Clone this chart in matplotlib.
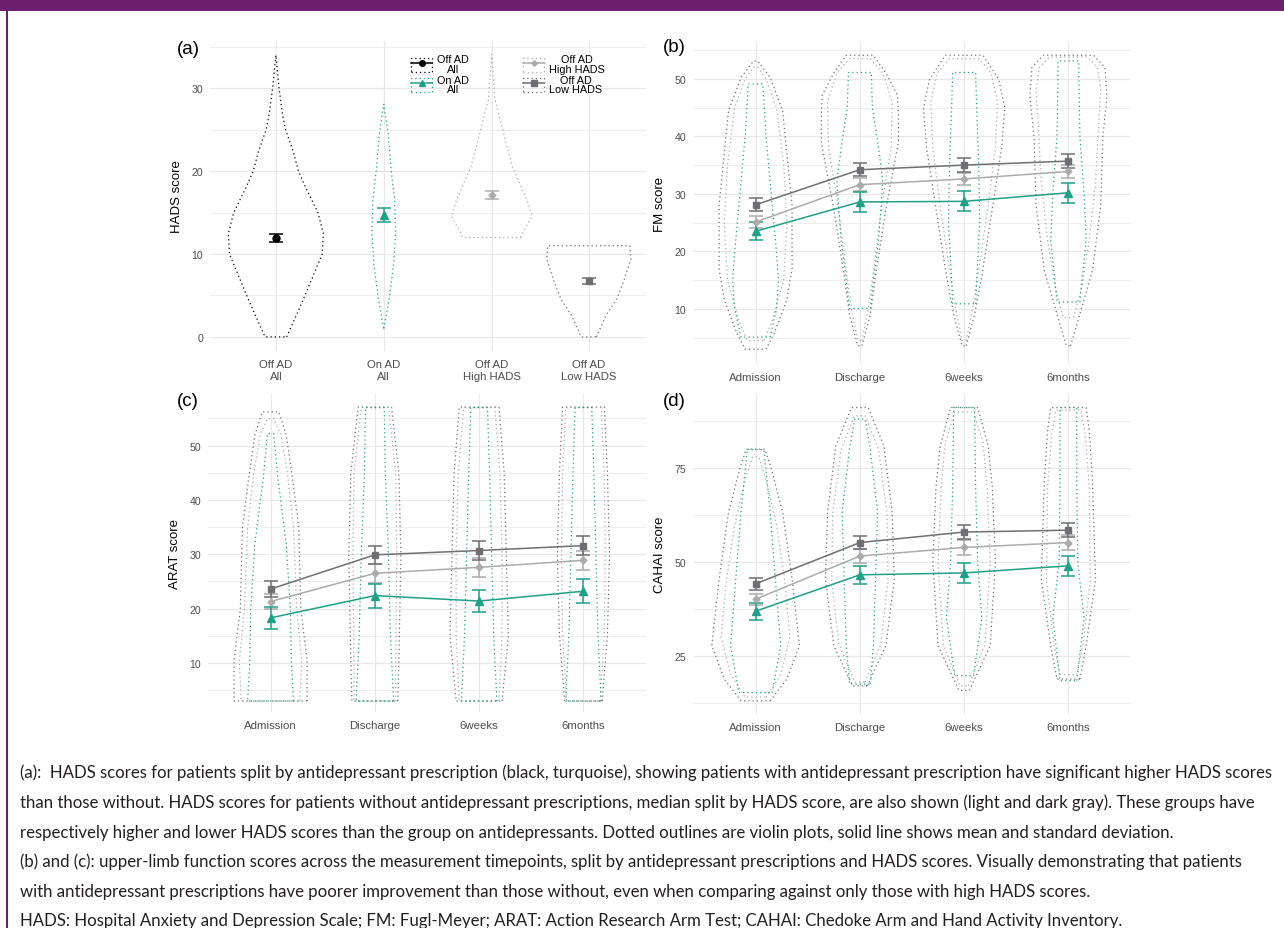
import matplotlib
matplotlib.use("Agg")
import matplotlib.pyplot as plt
from matplotlib.patches import Rectangle
from matplotlib.lines import Line2D

W, H = 1284, 929

# ---- data ----
groups_a = ["Off AD\nAll", "On AD\nAll", "Off AD\nHigh HADS", "Off AD\nLow HADS"]
pos_a = [1, 2, 3, 3.9]
hads_mean = [11.95, 14.7, 17.1, 6.75]
hads_sd = [0.45, 0.8, 0.45, 0.35]

# violin outlines: (score, half width) from bottom to top
hads_violins = [
    [(0, 0.10), (2.6, 0.19), (5, 0.27), (7.5, 0.35), (10, 0.43), (12.5, 0.44), (15, 0.39),
     (18.2, 0.27), (20, 0.21), (22.4, 0.16), (25, 0.09), (27, 0.06), (30, 0.03), (34, 0.0)],
    [(1, 0.0), (4.6, 0.05), (8.6, 0.09), (12.6, 0.11), (16.7, 0.10), (20, 0.07), (24.6, 0.04), (28.1, 0.0)],
    [(12, 0.27), (12.6, 0.29), (14.6, 0.375), (16.7, 0.32), (20.6, 0.19), (24.6, 0.11), (28.7, 0.03), (34.1, 0.0)],
    [(0, 0.07), (2.6, 0.16), (4.6, 0.26), (6.6, 0.32), (9.4, 0.39), (11, 0.38)],
]

timepoints = ["Admission", "Discharge", "6weeks", "6months"]

fm_on_mean = [23.5, 28.6, 28.7, 30.2]
fm_on_sd = [1.6, 1.7, 1.75, 1.7]
fm_hi_mean = [25.1, 31.6, 32.6, 33.9]
fm_hi_sd = [1.1, 1.1, 1.1, 1.2]
fm_lo_mean = [28.1, 34.2, 35.0, 35.7]
fm_lo_sd = [1.1, 1.1, 1.15, 1.2]

arat_on_mean = [18.3, 22.4, 21.4, 23.2]
arat_on_sd = [2.0, 2.2, 2.1, 2.2]
arat_hi_mean = [21.3, 26.5, 27.6, 28.9]
arat_hi_sd = [1.4, 1.8, 1.8, 1.7]
arat_lo_mean = [23.6, 29.9, 30.7, 31.6]
arat_lo_sd = [1.5, 1.6, 1.7, 1.7]

cahai_on_mean = [36.9, 46.6, 47.1, 49.0]
cahai_on_sd = [2.3, 2.4, 2.6, 2.6]
cahai_hi_mean = [40.1, 51.6, 53.9, 55.2]
cahai_hi_sd = [1.5, 1.8, 1.9, 2.1]
cahai_lo_mean = [44.2, 55.2, 58.0, 58.5]
cahai_lo_sd = [1.6, 1.8, 1.8, 1.9]

fm_lo_violins = [
    [(3.0, 0.10), (5.8, 0.18), (11.6, 0.30), (17, 0.35), (28, 0.35), (37, 0.30), (44.4, 0.26), (50.2, 0.14), (53.1, 0.02)],
    [(3.6, 0.02), (9, 0.10), (15.8, 0.15), (27.4, 0.25), (39, 0.37), (44, 0.37), (47.2, 0.36), (51, 0.25), (54.1, 0.13)],
    [(3.6, 0.02), (9, 0.10), (15.8, 0.17), (27.4, 0.27), (38, 0.36), (45, 0.39), (50, 0.33), (54.1, 0.18)],
    [(3.6, 0.02), (7.9, 0.09), (16.6, 0.23), (28, 0.31), (40, 0.33), (47, 0.37), (52, 0.35), (54.1, 0.24)],
]
fm_hi_violins = [
    [(4.5, 0.08), (8, 0.16), (15, 0.27), (25, 0.30), (35, 0.27), (45, 0.20), (50, 0.10), (52, 0.02)],
    [(4.5, 0.02), (10, 0.08), (18, 0.14), (28, 0.21), (38, 0.30), (46, 0.31), (51, 0.22), (53.5, 0.10)],
    [(4.5, 0.02), (10, 0.08), (18, 0.15), (28, 0.23), (38, 0.30), (46, 0.32), (51, 0.26), (53.5, 0.14)],
    [(8.5, 0.05), (14, 0.13), (22, 0.20), (32, 0.26), (42, 0.29), (48, 0.31), (52, 0.28), (53.8, 0.18)],
]
fm_on_violins = [
    [(5.1, 0.14), (10, 0.20), (15, 0.22), (20, 0.20), (30, 0.15), (40, 0.10), (49.1, 0.07)],
    [(10.1, 0.10), (15, 0.13), (22, 0.18), (32, 0.22), (38, 0.18), (45, 0.12), (51.1, 0.11)],
    [(10.9, 0.11), (15, 0.12), (25, 0.15), (35, 0.14), (45, 0.12), (51.1, 0.11)],
    [(11.2, 0.11), (15, 0.13), (22, 0.17), (30, 0.15), (40, 0.11), (50, 0.10), (53.1, 0.10)],
]

arat_lo_violins = [
    [(3, 0.35), (10.6, 0.35), (19.9, 0.29), (35, 0.27), (44, 0.21), (52, 0.15), (56.2, 0.08)],
    [(3, 0.22), (10, 0.23), (30, 0.25), (45, 0.23), (57.1, 0.16)],
    [(3, 0.22), (15, 0.28), (30, 0.26), (45, 0.24), (57.1, 0.19)],
    [(3, 0.18), (15, 0.23), (30, 0.25), (45, 0.23), (57.1, 0.20)],
]
arat_hi_violins = [
    [(3, 0.28), (10, 0.30), (20, 0.25), (35, 0.22), (45, 0.16), (52, 0.10), (55, 0.03)],
    [(3, 0.20), (10, 0.20), (30, 0.21), (45, 0.20), (57, 0.13)],
    [(3, 0.19), (15, 0.22), (30, 0.22), (45, 0.20), (57, 0.15)],
    [(3, 0.16), (15, 0.20), (30, 0.21), (45, 0.20), (57, 0.17)],
]
arat_on_violins = [
    [(3, 0.22), (10, 0.20), (19.9, 0.19), (32, 0.15), (44, 0.07), (52.2, 0.03)],
    [(3, 0.18), (15, 0.15), (30, 0.13), (45, 0.10), (57, 0.09)],
    [(3, 0.17), (15, 0.14), (30, 0.12), (45, 0.10), (57, 0.08)],
    [(3, 0.17), (15, 0.14), (30, 0.12), (45, 0.10), (57, 0.08)],
]

cahai_lo_violins = [
    [(13, 0.14), (18.8, 0.30), (27.7, 0.42), (45.4, 0.35), (63.2, 0.26), (75, 0.15), (80.1, 0.09)],
    [(17, 0.07), (27.7, 0.25), (45.4, 0.33), (63.2, 0.31), (81, 0.23), (91.2, 0.08)],
    [(15.8, 0.05), (27.7, 0.25), (50, 0.30), (70, 0.27), (81, 0.23), (91.2, 0.13)],
    [(18.8, 0.11), (27.7, 0.17), (45.4, 0.26), (72, 0.23), (85, 0.20), (91.2, 0.17)],
]
cahai_hi_violins = [
    [(14, 0.10), (20, 0.24), (30, 0.33), (45, 0.28), (60, 0.20), (72, 0.10), (78, 0.03)],
    [(18, 0.05), (28, 0.20), (45, 0.27), (63, 0.26), (80, 0.18), (89, 0.05)],
    [(17, 0.04), (28, 0.20), (50, 0.25), (70, 0.22), (82, 0.18), (90, 0.09)],
    [(20, 0.08), (28, 0.14), (45, 0.21), (70, 0.20), (84, 0.16), (90.5, 0.12)],
]
cahai_on_violins = [
    [(15.2, 0.16), (27.7, 0.24), (45.4, 0.19), (63.2, 0.14), (80, 0.08)],
    [(17.5, 0.10), (27.7, 0.13), (45, 0.15), (63.2, 0.17), (80, 0.10), (88.1, 0.05)],
    [(19.7, 0.09), (35, 0.17), (50, 0.13), (70, 0.11), (91.2, 0.10)],
    [(18.4, 0.08), (35, 0.15), (50, 0.09), (70, 0.08), (91.2, 0.08)],
]

caption = [
    "(a):  HADS scores for patients split by antidepressant prescription (black, turquoise), showing patients with antidepressant prescription have significant higher HADS scores",
    "than those without. HADS scores for patients without antidepressant prescriptions, median split by HADS score, are also shown (light and dark gray). These groups have",
    "respectively higher and lower HADS scores than the group on antidepressants. Dotted outlines are violin plots, solid line shows mean and standard deviation.",
    "(b) and (c): upper-limb function scores across the measurement timepoints, split by antidepressant prescriptions and HADS scores. Visually demonstrating that patients",
    "with antidepressant prescriptions have poorer improvement than those without, even when comparing against only those with high HADS scores.",
    "HADS: Hospital Anxiety and Depression Scale; FM: Fugl-Meyer; ARAT: Action Research Arm Test; CAHAI: Chedoke Arm and Hand Activity Inventory.",
]

# ---- style ----
BLACK = "#000000"
TEAL = "#1FA187"
LGRAY = "#ABABAB"
DGRAY = "#6F6F73"
PURPLE = "#6B1F6E"
GRID = "#E8E8E8"
DOT = (0, (1, 2.4))

plt.rcParams["font.family"] = ["Liberation Sans", "DejaVu Sans"]


def px_rect(l, t, r, b):
    return [l / W, 1 - b / H, (r - l) / W, (b - t) / H]


def violin(ax, x, prof, color):
    ys = [p[0] for p in prof]
    hw = [p[1] for p in prof]
    xs = [x + h for h in hw] + [x - h for h in hw[::-1]]
    yy = ys + ys[::-1]
    ax.fill(xs, yy, fill=False, edgecolor=color, ls=DOT, lw=0.9, zorder=2)


def style_axes(ax, xpos, xlabels, ylim, major, minor, ylabel, tag, tagx, tagy):
    ax.set_xlim(xpos[0] - 0.6, max(xpos) + 0.6)
    ax.set_ylim(*ylim)
    ax.set_xticks(xpos)
    ax.set_xticklabels(xlabels)
    ax.set_yticks(major)
    ax.set_yticks(minor, minor=True)
    ax.grid(True, which="major", color=GRID, lw=0.9)
    ax.grid(True, which="minor", axis="y", color=GRID, lw=0.5)
    ax.set_axisbelow(True)
    for s in ax.spines.values():
        s.set_visible(False)
    ax.tick_params(which="both", length=0)
    ax.tick_params(axis="x", labelsize=8.2, colors="#4D4D4D", pad=6)
    ax.tick_params(axis="y", labelsize=7.6, colors="#4D4D4D", pad=5)
    ax.set_ylabel(ylabel, fontsize=9.5, labelpad=6)
    fig.text(tagx / W, 1 - tagy / H, tag, fontsize=13.5, va="center", ha="left")


fig = plt.figure(figsize=(W / 100, H / 100), dpi=100)

# frame decoration
fig.add_artist(Rectangle((0, 1 - 12 / H), 1, 12 / H, transform=fig.transFigure, color=PURPLE, lw=0))
fig.add_artist(Rectangle((6 / W, 0), 2 / W, 1, transform=fig.transFigure, color=PURPLE, lw=0))

# ---- (a) ----
ax_a = fig.add_axes(px_rect(210, 42, 646, 352))
colors_a = [BLACK, TEAL, LGRAY, DGRAY]
markers_a = ["o", "^", "D", "s"]
sizes_a = [5, 6, 3.5, 5]
for i in range(4):
    violin(ax_a, pos_a[i], hads_violins[i], colors_a[i])
    ax_a.errorbar(pos_a[i], hads_mean[i], yerr=hads_sd[i], color=colors_a[i], marker=markers_a[i],
                  ms=sizes_a[i], capsize=5, capthick=1.1, lw=1.1, zorder=4)
style_axes(ax_a, pos_a, groups_a, (-1.7, 35.7), [0, 10, 20, 30], [5, 15, 25, 35],
           "HADS score", "(a)", 177, 49)
ax_a.set_xlim(0.39, 4.43)

handles = []
for c, m, s in zip(colors_a, markers_a, sizes_a):
    box = Rectangle((0, 0), 1, 1, fill=False, edgecolor=c, ls=DOT, lw=0.9)
    ln = Line2D([], [], color=c, marker=m, ms=s * 0.8, lw=1.1)
    handles.append((box, ln))
leg = ax_a.legend(handles, ["Off AD\nAll", "On AD\nAll", "Off AD\nHigh HADS", "Off AD\nLow HADS"],
                  loc="upper left", bbox_to_anchor=(406 / W, 1 - 50 / H), bbox_transform=fig.transFigure,
                  ncol=2, frameon=False, fontsize=7.8, handlelength=1.9, handleheight=1.6,
                  labelspacing=0.05, columnspacing=5.0, borderpad=0, handletextpad=0.5)
for t in leg.get_texts():
    t.set_multialignment("center")
    t.set_linespacing(0.95)


def timeline_panel(rect, lo_v, hi_v, on_v, lo_m, lo_s, hi_m, hi_s, on_m, on_s,
                   ylim, major, minor, ylabel, tag, tagx, tagy):
    ax = fig.add_axes(px_rect(*rect))
    xpos = [1, 2, 3, 4]
    for i in range(4):
        violin(ax, xpos[i], lo_v[i], DGRAY)
        violin(ax, xpos[i], hi_v[i], LGRAY)
        violin(ax, xpos[i], on_v[i], TEAL)
    for m, s, c, mk, ms in [(hi_m, hi_s, LGRAY, "D", 3.5), (lo_m, lo_s, DGRAY, "s", 5), (on_m, on_s, TEAL, "^", 6)]:
        ax.errorbar(xpos, m, yerr=s, color=c, marker=mk, ms=ms, capsize=5, capthick=1.1,
                    lw=1.1, zorder=4)
    style_axes(ax, xpos, timepoints, ylim, major, minor, ylabel, tag, tagx, tagy)
    return ax


timeline_panel((693, 43, 1131, 365), fm_lo_violins, fm_hi_violins, fm_on_violins,
               fm_lo_mean, fm_lo_sd, fm_hi_mean, fm_hi_sd, fm_on_mean, fm_on_sd,
               (0.43, 56.4), [10, 20, 30, 40, 50], [5, 15, 25, 35, 45, 55], "FM score", "(b)", 663, 48)
timeline_panel((208, 395, 646, 713), arat_lo_violins, arat_hi_violins, arat_on_violins,
               arat_lo_mean, arat_lo_sd, arat_hi_mean, arat_hi_sd, arat_on_mean, arat_on_sd,
               (0.98, 59.5), [10, 20, 30, 40, 50], [5, 15, 25, 35, 45, 55], "ARAT score", "(c)", 177, 402)
timeline_panel((693, 395, 1131, 715), cahai_lo_violins, cahai_hi_violins, cahai_on_violins,
               cahai_lo_mean, cahai_lo_sd, cahai_hi_mean, cahai_hi_sd, cahai_on_mean, cahai_on_sd,
               (9.5, 94.8), [25, 50, 75], [12.5, 37.5, 62.5, 87.5], "CAHAI score", "(d)", 663, 402)

# ---- caption ----
line_y = [773, 803, 833, 862, 892, 921]
for txt, y in zip(caption, line_y):
    fig.text(20 / W, 1 - y / H, txt, fontsize=12.1, family=["Lato", "DejaVu Sans"],
             color="#231F20", va="center", ha="left")

fig.savefig("out.png", dpi=100)
